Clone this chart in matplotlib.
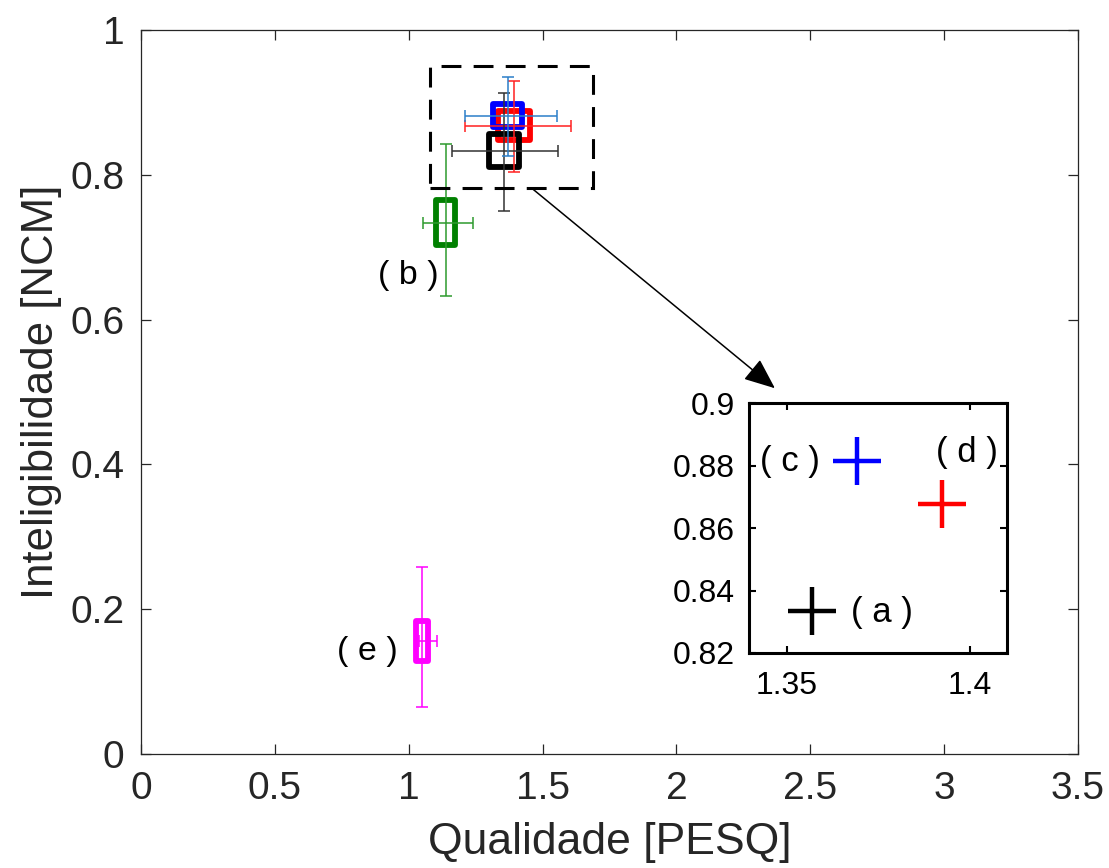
import numpy as np
import matplotlib.pyplot as plt
from matplotlib.patches import Rectangle

plt.rcParams['font.family'] = ['Liberation Sans', 'DejaVu Sans']

# mean PESQ / NCM per condition
labels = ['( a )', '( b )', '( c )', '( d )', '( e )']
pesq = [1.3567, 1.139, 1.3692, 1.3924, 1.0497]
ncm = [0.8334, 0.734, 0.8815, 0.8676, 0.1563]
pesq_lo = [0.196, 0.087, 0.159, 0.182, 0.01]
pesq_hi = [0.202, 0.102, 0.184, 0.213, 0.057]
ncm_lo = [0.084, 0.101, 0.055, 0.063, 0.091]
ncm_hi = [0.080, 0.108, 0.053, 0.062, 0.102]
box_w = [0.112, 0.071, 0.112, 0.12, 0.045]
box_h = [0.0456, 0.062, 0.032, 0.040, 0.055]

box_col = ['black', (0, 0.5, 0), 'blue', 'red', 'magenta']
bar_col = ['#333333', '#2e9a2e', '#2b7fc9', '#ff2020', 'magenta']
order = [3, 1, 4, 0, 2]

fig = plt.figure(figsize=(11.09, 8.68), dpi=100)
ax = fig.add_axes([0.1271, 0.1313, 0.8449, 0.8341])

for i in order:
    ax.add_patch(Rectangle((pesq[i] - box_w[i] / 2, ncm[i] - box_h[i] / 2), box_w[i], box_h[i],
                           fill=False, edgecolor=box_col[i], lw=4.2, joinstyle='round', zorder=2))
for i in order:
    ax.errorbar(pesq[i], ncm[i], xerr=[[pesq_lo[i]], [pesq_hi[i]]], yerr=[[ncm_lo[i]], [ncm_hi[i]]],
                fmt='none', ecolor=bar_col[i], elinewidth=1.1, capsize=4.5, capthick=1.1, zorder=3)

# zoom region
ax.add_patch(Rectangle((1.0796, 0.782), 0.6104, 0.168, fill=False, edgecolor='black',
                       lw=2.2, ls=(0, (6.5, 4)), zorder=4))
ax.annotate('', xy=(2.376, 0.5028), xytext=(1.453, 0.7836),
            arrowprops=dict(arrowstyle='-|>,head_length=0.6,head_width=0.25', color='black',
                            lw=1.1, mutation_scale=32))

ax.text(0.997, 0.6616, labels[1], fontsize=24.5, ha='center', va='center')
ax.text(0.844, 0.141, labels[4], fontsize=24.5, ha='center', va='center')

ax.set_xlim(0, 3.5)
ax.set_ylim(0, 1)
ax.set_xticks([0, 0.5, 1, 1.5, 2, 2.5, 3, 3.5])
ax.set_xticklabels(['0', '0.5', '1', '1.5', '2', '2.5', '3', '3.5'])
ax.set_yticks([0, 0.2, 0.4, 0.6, 0.8, 1])
ax.set_yticklabels(['0', '0.2', '0.4', '0.6', '0.8', '1'])
ax.tick_params(direction='in', top=True, right=True, labelsize=28, colors='#262626',
               length=7, width=0.9)
ax.tick_params(axis='x', pad=12)
ax.tick_params(axis='y', pad=12)
for s in ax.spines.values():
    s.set_color('#262626')
    s.set_linewidth(0.9)
ax.set_xlabel('Qualidade [PESQ]', fontsize=32, color='#262626', labelpad=11)
ax.set_ylabel('Inteligibilidade [NCM]', fontsize=31.5, color='#262626', labelpad=6)

# inset with the means only
ins = fig.add_axes([0.6754, 0.2477, 0.2326, 0.2880])
for i in [0, 2, 3]:
    ins.plot(pesq[i], ncm[i], marker='+', color=box_col[i], ms=34, mew=3.2, ls='none')
ins.text(1.3508, 0.8813, labels[2], fontsize=25, ha='center', va='center')
ins.text(1.3992, 0.8843, labels[3], fontsize=25, ha='center', va='center')
ins.text(1.376, 0.8331, labels[0], fontsize=25, ha='center', va='center')
ins.set_xlim(1.3396, 1.4101)
ins.set_ylim(0.82, 0.9)
ins.set_xticks([1.35, 1.4])
ins.set_xticklabels(['1.35', '1.4'])
ins.set_yticks([0.82, 0.84, 0.86, 0.88, 0.9])
ins.set_yticklabels(['0.82', '0.84', '0.86', '0.88', '0.9'])
ins.tick_params(direction='in', top=True, right=True, labelsize=23, length=5, width=1.5)
ins.tick_params(axis='x', pad=13)
ins.tick_params(axis='y', pad=10)
for s in ins.spines.values():
    s.set_linewidth(2.2)

fig.savefig('out.png', dpi=100)
